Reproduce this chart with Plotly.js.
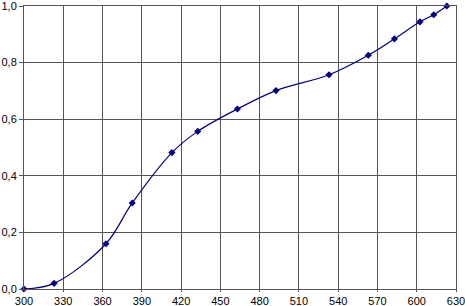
<!DOCTYPE html>
<html><head><meta charset="utf-8">
<script src="https://cdn.plot.ly/plotly-3.0.1.min.js"></script>
<style>html,body{margin:0;padding:0;background:#fff}#chart{width:465px;height:306px}</style>
</head><body><div id="chart"></div>
<script>
const xValues = [300, 323, 362.6, 382.7, 413, 432.7, 463, 492.5, 533, 563, 583, 602.5, 613, 623];
const yValues = [0.0, 0.02, 0.160, 0.304, 0.482, 0.557, 0.636, 0.701, 0.757, 0.826, 0.884, 0.944, 0.969, 1.0];

const trace = {
  x: xValues, y: yValues, type: 'scatter', mode: 'lines+markers',
  line: {color: '#000080', width: 1.2, shape: 'spline', smoothing: 1},
  marker: {color: '#000080', symbol: 'diamond', size: 5.5},
  cliponaxis: false, hoverinfo: 'skip'
};
const axisCommon = {
  showgrid: true, gridcolor: '#555555', gridwidth: 1,
  showline: true, linecolor: '#555555', linewidth: 1, mirror: true,
  zeroline: false, tickfont: {family: 'Liberation Sans, Arial, sans-serif', size: 11, color: '#000'},
  ticklabeloverflow: 'allow', automargin: false,
  fixedrange: true
};
const layout = {
  width: 465, height: 306,
  margin: {l: 24, r: 9, t: 6, b: 17, pad: 0},
  paper_bgcolor: '#fff', plot_bgcolor: '#fff',
  separators: ', ',
  showlegend: false,
  xaxis: Object.assign({}, axisCommon, {range: [300, 630], tick0: 300, dtick: 30, ticks: 'outside', ticklen: 2, tickcolor: '#555555'}),
  yaxis: Object.assign({}, axisCommon, {range: [0, 1], tick0: 0, dtick: 0.2, tickformat: '.1f', ticks: 'outside', ticklen: 4, tickcolor: '#555555'})
};
Plotly.newPlot('chart', [trace], layout, {staticPlot: true, displayModeBar: false});
</script></body></html>
